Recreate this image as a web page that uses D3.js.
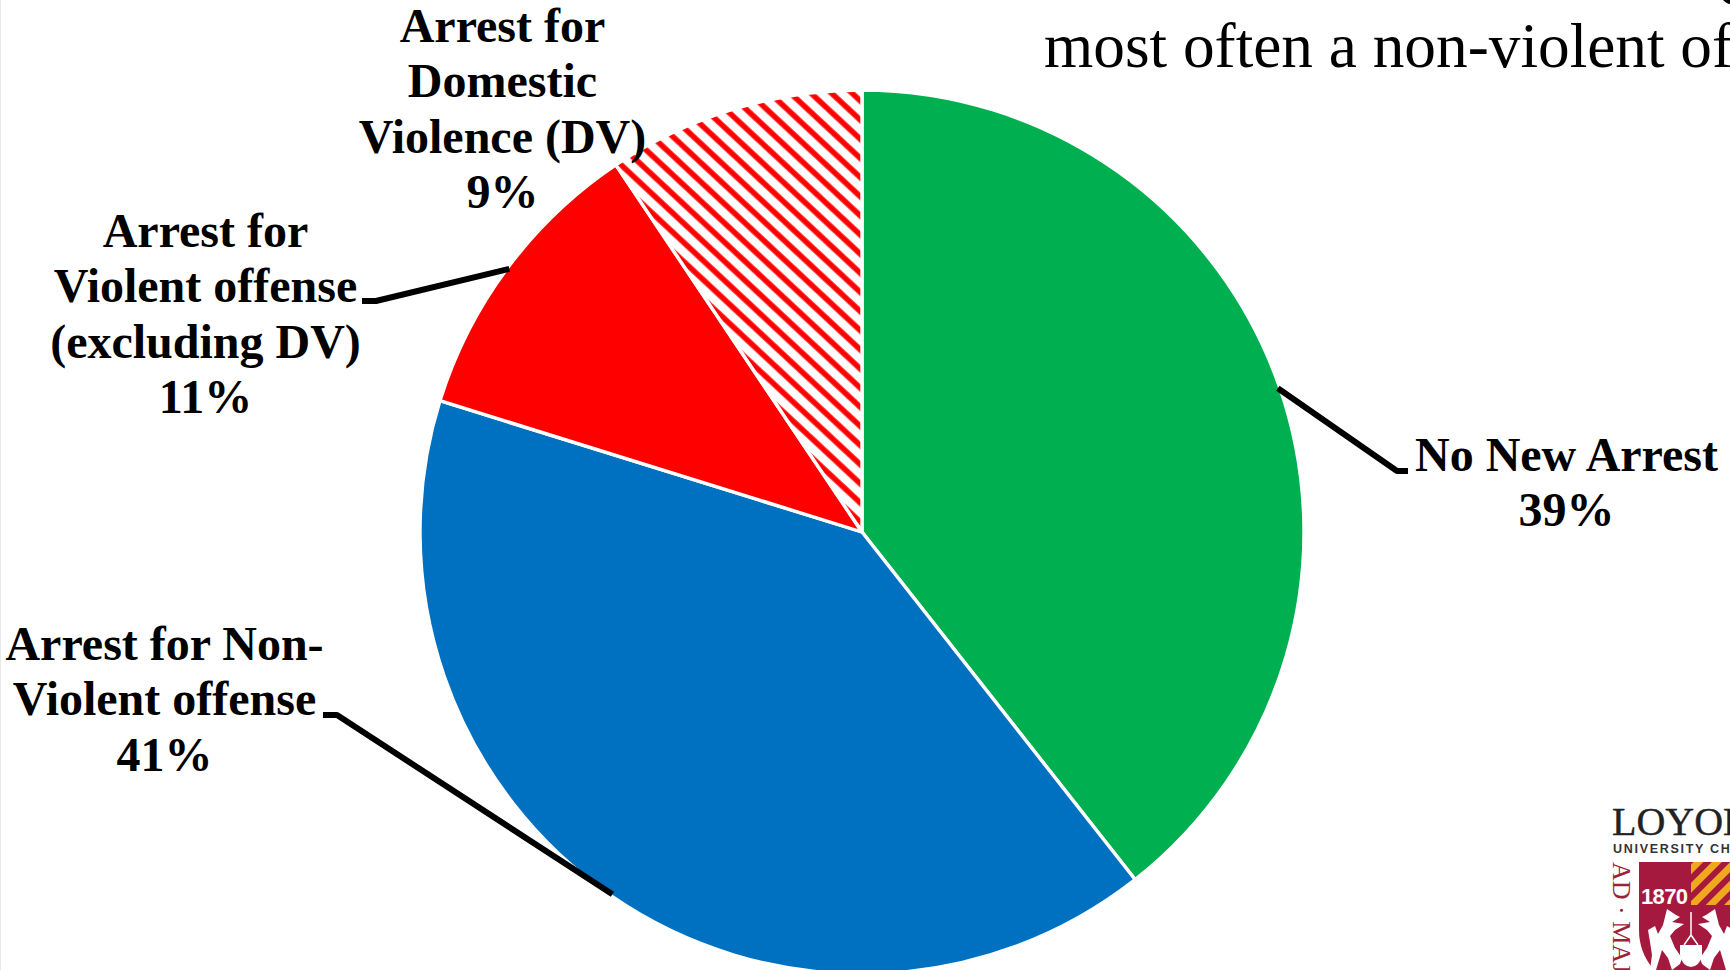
<!DOCTYPE html>
<html><head><meta charset="utf-8">
<script src="https://cdn.jsdelivr.net/npm/d3@7"></script>
<style>html,body{margin:0;padding:0;background:#fff;overflow:hidden}svg{display:block}</style>
</head><body><svg id="c" width="1730" height="970"></svg>
<script>
const categories = ["No New Arrest","Arrest for Non-Violent offense","Arrest for Violent offense (excluding DV)","Arrest for Domestic Violence (DV)"];
const shares = [39.4,40.4,10.8,9.4];
const colors = ["#00B050","#0070C0","#FF0000","url(#hatch)"];
const labelLines = [["No New Arrest","39%"],["Arrest for Non-","Violent offense","41%"],["Arrest for","Violent offense","(excluding DV)","11%"],["Arrest for","Domestic","Violence (DV)","9%"]];
const labelCentres = [1566.5,164.5,205.5,502.5];
const labelFirstBaselines = [471,660,247,42];
const leaderElbows = [[[1408,471],[1397,471]],[[323,715],[337,715]],[[362,301],[376,301]],null];
const titleText = "most often a non-violent offense";

const svg = d3.select("#c");
const cx=862, cy=532, R=442;
const defs = svg.append("defs");
const grad = defs.append("linearGradient").attr("id","stripe").attr("x1",0).attr("y1",0).attr("x2",0).attr("y2",1);
[[0,"#fff"],[0.04,"#fff"],[0.13,"#f00"],[0.44,"#f00"],[0.54,"#fff"],[1,"#fff"]].forEach(s=>grad.append("stop").attr("offset",s[0]).attr("stop-color",s[1]));
const hp = defs.append("pattern").attr("id","hatch").attr("patternUnits","userSpaceOnUse")
  .attr("width",14).attr("height",14).attr("patternTransform","rotate(43) translate(0,3.8)");
hp.append("rect").attr("width",14).attr("height",14).attr("fill","url(#stripe)");

svg.append("line").attr("x1",0.5).attr("x2",0.5).attr("y1",0).attr("y2",970).attr("stroke","#e8e8e8");

const pie = d3.pie().sort(null).value(d=>d)(shares);
const arc = d3.arc().innerRadius(0).outerRadius(R);
const g = svg.append("g").attr("transform",`translate(${cx},${cy})`);
g.selectAll("path").data(pie).join("path").attr("d",arc)
  .attr("fill",(d,i)=>colors[i]).attr("stroke","#fff").attr("stroke-width",3.4).attr("stroke-linejoin","round");

leaderElbows.forEach((el,i)=>{
  if(!el) return;
  const m=(pie[i].startAngle+pie[i].endAngle)/2;
  const p=[cx+(R-2)*Math.sin(m),cy-(R-2)*Math.cos(m)];
  svg.append("path").attr("d",d3.line()([el[0],el[1],p])).attr("fill","none").attr("stroke","#000").attr("stroke-width",6).attr("stroke-linejoin","bevel");
});

const lh=55.3;
labelLines.forEach((lines,i)=>{
  const t=svg.append("text").attr("text-anchor","middle")
    .attr("font-family","'Liberation Serif'").attr("font-weight","700").attr("font-size",48).attr("fill","#000");
  lines.forEach((s,j)=>t.append("tspan").attr("x",labelCentres[i]).attr("y",labelFirstBaselines[i]+j*lh).text(s));
});

svg.append("text").attr("x",1044).attr("y",67).attr("font-family","'Liberation Serif'").attr("font-size",63.3).attr("fill","#000").text(titleText);
svg.append("path").attr("d","M1723,0Q1727,4 1730,4V0Z").attr("fill","#000");

// logo
const maroon="#a6193f";
const logo=svg.append("g");
logo.append("text").attr("x",1612).attr("y",835).attr("font-family","'Liberation Serif'").attr("font-size",40).attr("fill","#222").attr("stroke","#222").attr("stroke-width",0.4).text("LOYOLA");
logo.append("text").attr("x",1613).attr("y",853).attr("font-family","'Liberation Sans'").attr("font-weight","700").attr("font-size",12.5).attr("letter-spacing",1.7).attr("fill","#333").text("UNIVERSITY CHICAGO");
logo.append("text").attr("transform","translate(1613,862) rotate(90)").attr("font-family","'Liberation Serif'").attr("font-size",26).attr("fill","#9d2235").text("AD · MAJOREM");
logo.append("path").attr("d","M1639,862H1740V980H1665Q1639,960 1639,930Z").attr("fill",maroon);
const gp=defs.append("pattern").attr("id","gold").attr("patternUnits","userSpaceOnUse").attr("width",13).attr("height",13).attr("patternTransform","rotate(-45)");
gp.append("rect").attr("width",13).attr("height",13).attr("fill",maroon);
gp.append("rect").attr("width",13).attr("height",7).attr("fill","#f0a81e");
logo.append("rect").attr("x",1691).attr("y",862).attr("width",40).attr("height",43).attr("fill","url(#gold)");
logo.append("text").attr("x",1641).attr("y",904).attr("font-family","'Liberation Sans'").attr("font-weight","700").attr("font-size",22).attr("textLength",47).attr("fill","#fff").text("1870");
const wolf="M1667,909L1676,915L1680,917L1672,922L1684,924L1675,930L1670,936L1675,948L1682,958L1680,964L1672,970L1668,958L1662,950L1656,970L1650,970L1652,955L1650,942L1648,930L1655,926L1658,934L1663,925Z";
logo.append("path").attr("d",wolf).attr("fill","#fff");
logo.append("path").attr("d",wolf).attr("fill","#fff").attr("transform","translate(3382,0) scale(-1,1)");
logo.append("path").attr("d","M1691,912V935M1691,935L1684,945M1691,935L1698,945").attr("stroke","#fff").attr("stroke-width",1.5).attr("fill","none");
logo.append("path").attr("d","M1680,945H1702V955Q1700,966 1691,967Q1682,966 1680,955Z").attr("fill","#fff");
</script></body></html>
